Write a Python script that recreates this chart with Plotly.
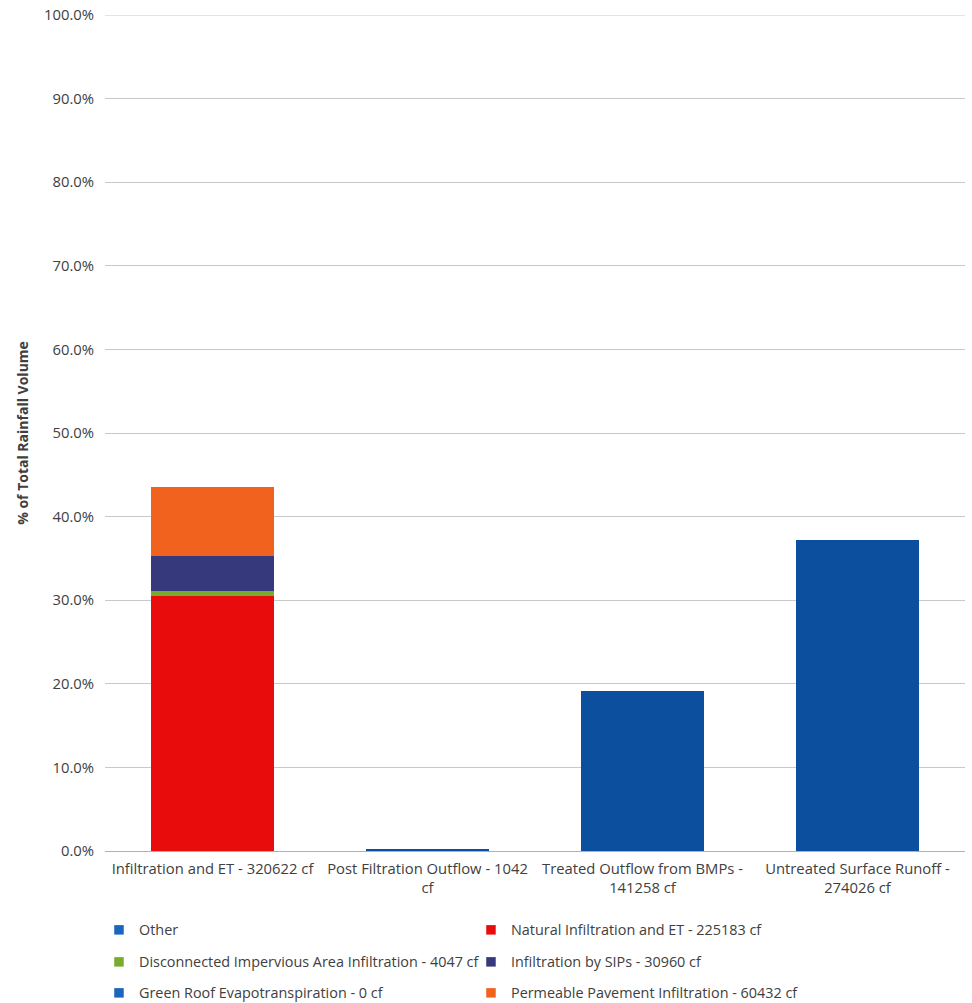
import plotly.graph_objects as go

# Rainfall fate categories (x axis)
categories = [
    "Infiltration and ET - 320622 cf",
    "Post Filtration Outflow - 1042<br>cf",
    "Treated Outflow from BMPs -<br>141258 cf",
    "Untreated Surface Runoff -<br>274026 cf",
]

# Volumes in cubic feet per stacked series, one value per category
other_cf = [0, 1042, 141258, 274026]
natural_cf = [225183, 0, 0, 0]
disconnected_cf = [4047, 0, 0, 0]
sips_cf = [30960, 0, 0, 0]
green_roof_cf = [0, 0, 0, 0]
permeable_cf = [60432, 0, 0, 0]

series_names = [
    "Other",
    "Natural Infiltration and ET - 225183 cf",
    "Disconnected Impervious Area Infiltration - 4047 cf",
    "Infiltration by SIPs - 30960 cf",
    "Green Roof Evapotranspiration - 0 cf",
    "Permeable Pavement Infiltration - 60432 cf",
]
series_values = [other_cf, natural_cf, disconnected_cf, sips_cf, green_roof_cf, permeable_cf]
series_colors = ["#0b4f9e", "#e80c0c", "#79ac2c", "#363a7c", "#0b4f9e", "#f2621f"]
legend_colors = ["#1a66bc", "#e80c0c", "#79ac2c", "#363a7c", "#1a66bc", "#f2621f"]
legend_ids = ["legend", "legend", "legend2", "legend2", "legend3", "legend3"]

total_cf = sum(sum(v) for v in series_values)

FONT = "Open Sans"
TXT = "#404040"
fig = go.Figure()
for name, vals, color in zip(series_names, series_values, series_colors):
    fig.add_trace(go.Bar(
        x=categories,
        y=[v / total_cf for v in vals],
        name=name,
        marker=dict(color=color, line=dict(width=0)),
        showlegend=False,
        hoverinfo="skip",
    ))

# Small square swatches for the legend entries
for name, color, lg in zip(series_names, legend_colors, legend_ids):
    fig.add_trace(go.Scatter(
        x=[None], y=[None],
        mode="markers",
        name=name,
        marker=dict(symbol="square", size=9.5, color=color),
        legend=lg,
        showlegend=True,
    ))

plot_top, plot_bottom = 15, 851
plot_h = plot_bottom - plot_top
row_px = [930, 962, 993]

def legend_cfg(row):
    return dict(
        orientation="h",
        x=-0.007,
        xanchor="left",
        y=-(row - plot_bottom) / plot_h,
        yanchor="middle",
        entrywidth=327,
        entrywidthmode="pixels",
        font=dict(family=FONT, size=14.4, color=TXT),
        bgcolor="rgba(0,0,0,0)",
        itemwidth=30,
        traceorder="normal",
    )

fig.update_layout(
    barmode="stack",
    bargap=0.43,
    width=972,
    height=1003,
    margin=dict(l=105, r=7, t=plot_top, b=1003 - plot_bottom, autoexpand=False),
    paper_bgcolor="white",
    plot_bgcolor="white",
    font=dict(family=FONT, size=14, color=TXT),
    legend=legend_cfg(row_px[0]),
    legend2=legend_cfg(row_px[1]),
    legend3=legend_cfg(row_px[2]),
    xaxis=dict(
        showgrid=False,
        showline=True,
        linecolor="#b0b0b0",
        linewidth=1,
        ticks="",
        tickfont=dict(family=FONT, size=14.8, color=TXT),
        ticklabelstandoff=4,
    ),
    yaxis=dict(
        range=[0, 1.0],
        tickvals=[i / 10 for i in range(11)],
        tickformat=".1%",
        showgrid=True,
        gridcolor="#c8c8c8",
        gridwidth=1,
        zeroline=False,
        showline=False,
        ticks="",
        ticklabelstandoff=10,
        tickfont=dict(family=FONT, size=14.8, color=TXT),
        title=dict(
            text="<b>% of Total Rainfall Volume</b>",
            font=dict(family=FONT, size=14, color=TXT),
            standoff=12,
        ),
    ),
    # gridline at the 100% edge of the value axis
    shapes=[dict(
        type="line", xref="paper", x0=0, x1=1, yref="y", y0=1.0, y1=1.0,
        line=dict(color="#c8c8c8", width=1), layer="below",
    )],
)

fig.write_html("out.html")
